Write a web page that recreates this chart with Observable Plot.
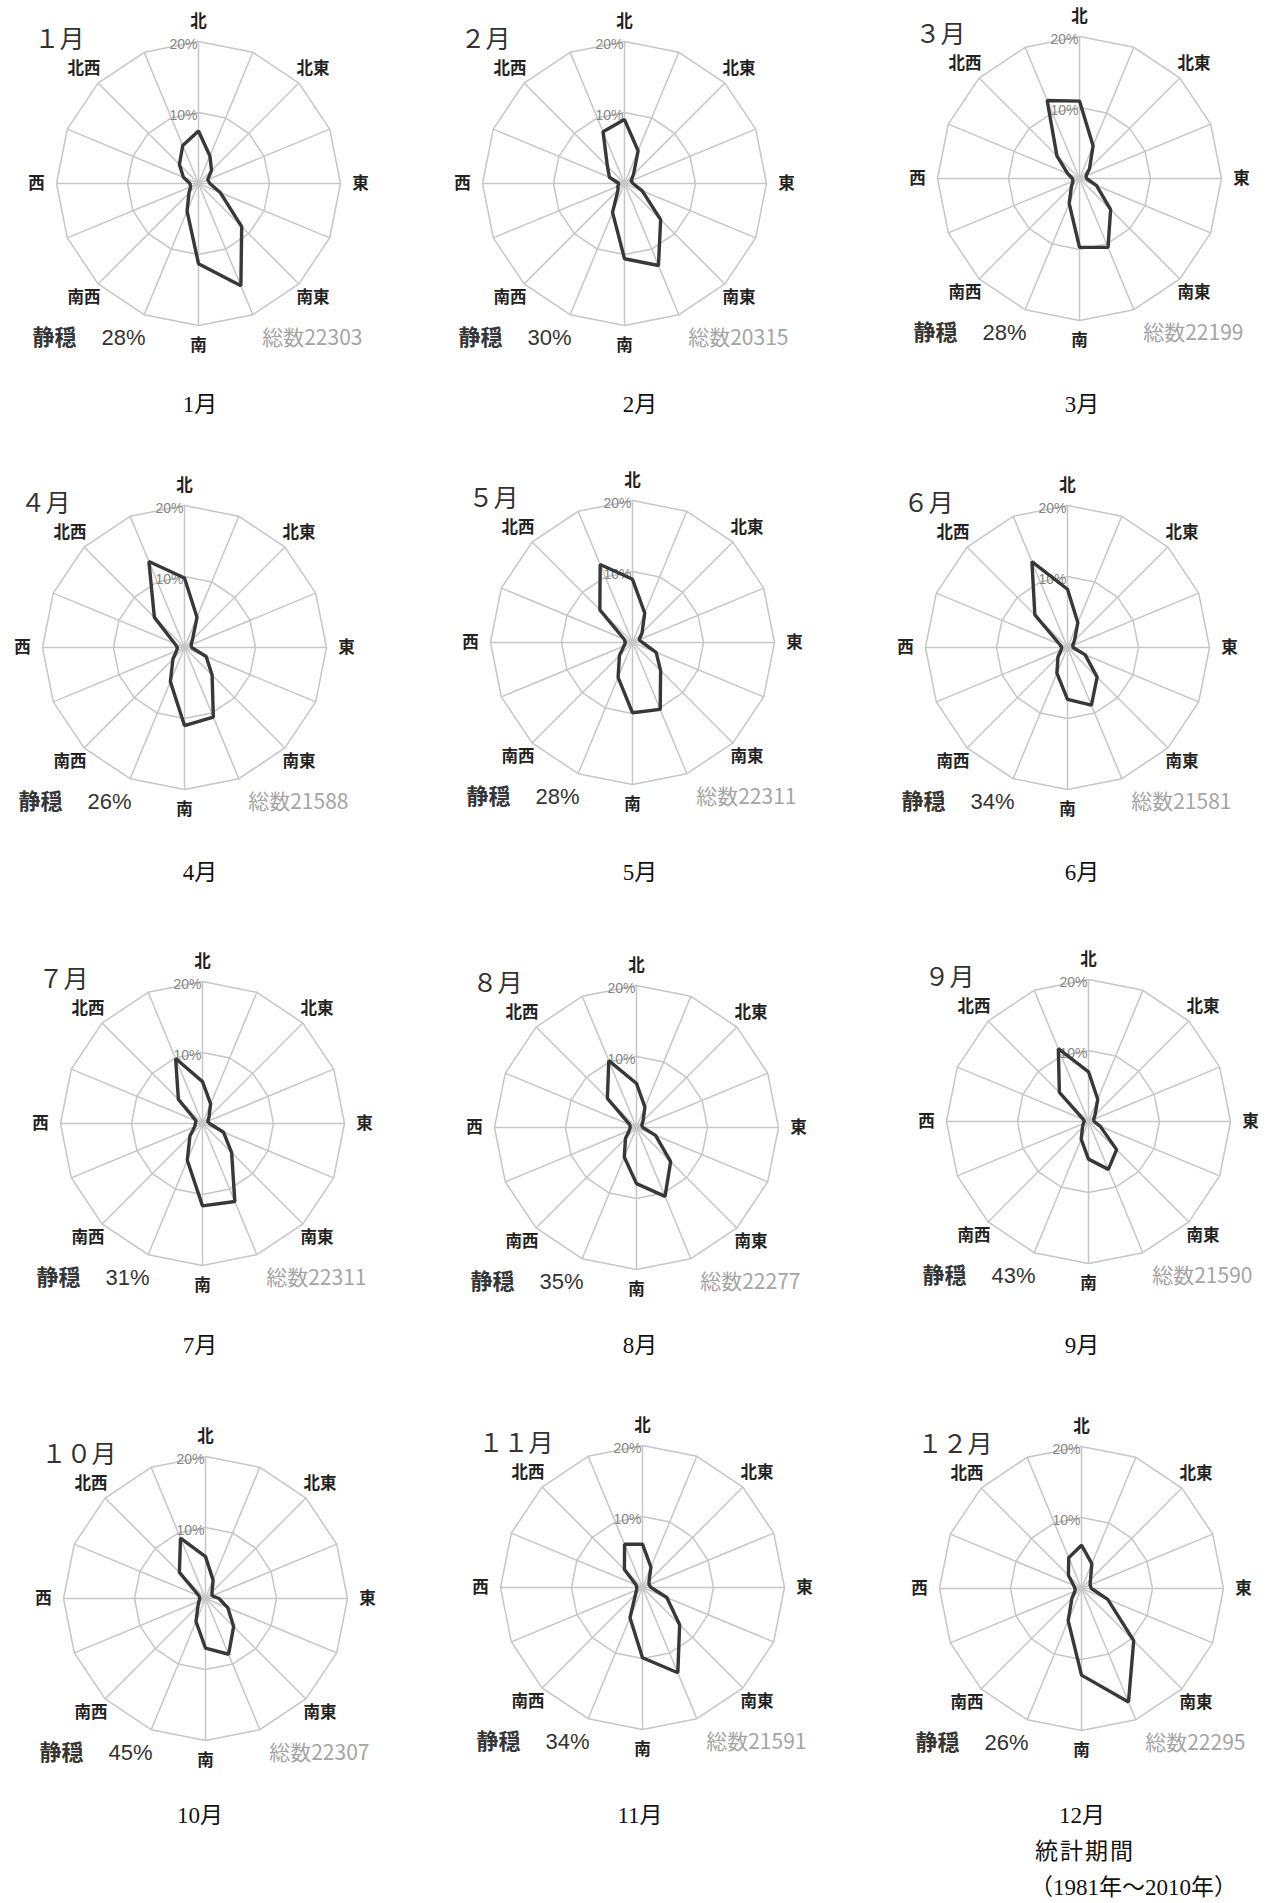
<!DOCTYPE html>
<html><head><meta charset="utf-8">
<script src="https://cdn.jsdelivr.net/npm/d3@7"></script>
<script src="https://cdn.jsdelivr.net/npm/@observablehq/plot@0.6"></script>
<style>
body{margin:0;background:#fff;}
#page{position:relative;width:1276px;height:1903px;overflow:hidden;font-family:"Noto Sans CJK JP",sans-serif;}
.panel{position:absolute;}
.cap{position:absolute;font-family:"Liberation Serif","DejaVu Serif","Noto Sans CJK JP",serif;font-size:23px;color:#111;white-space:nowrap;line-height:1;}
.c{transform:translate(-50%,-50%);}
.l{transform:translate(0,-50%);}
</style></head><body><div id="page"></div>
<script>
// ---- data ----
const directions = ["北","北北東","北東","東北東","東","東南東","南東","南南東","南","南南西","南西","西南西","西","西北西","北西","北北西"];
const labelDirs = ["北","北東","東","南東","南","南西","西","北西"];
const monthTitles = ["１月","２月","３月","４月","５月","６月","７月","８月","９月","１０月","１１月","１２月"];
const monthCaptions = ["1月","2月","3月","4月","5月","6月","7月","8月","9月","10月","11月","12月"];
const calm = [28,30,28,26,28,34,31,35,43,45,34,26];
const totals = [22303,20315,22199,21588,22311,21581,22311,22277,21590,22307,21591,22295];
const ringTicks = [10,20];
const footnote = ["統計期間","（1981年～2010年）"];

const jan = [7.4,4.2,2.6,1.4,1.6,3.3,8.6,15.6,11.3,4.2,1.9,1.2,1.2,2.3,3.8,5.8];
const feb = [9.0,5.0,1.8,1.0,1.2,2.7,7.2,12.5,10.6,4.4,1.3,1.0,0.8,2.3,3.4,7.9];
const mar = [10.9,5.0,2.0,1.0,1.0,2.6,6.2,10.5,9.7,3.8,1.6,1.0,1.0,1.8,4.5,11.9];
const apr = [9.8,4.6,1.6,1.0,1.0,3.3,5.5,10.6,11.0,5.2,2.3,1.2,1.0,1.5,6.0,13.1];
const may = [8.9,4.5,1.9,1.0,1.4,3.6,5.6,10.2,9.9,5.3,2.6,1.3,1.0,1.3,6.5,11.9];
const jun = [8.2,3.8,1.4,0.8,0.8,2.7,5.9,8.8,7.3,3.9,1.9,1.0,0.8,1.2,6.5,13.1];
const jul = [5.9,3.0,1.3,0.8,1.0,3.2,5.8,11.9,11.6,5.6,2.5,1.2,1.0,1.0,4.8,9.9];
const aug = [6.2,3.1,1.3,0.8,0.9,2.9,6.8,10.5,7.9,4.5,2.2,1.1,0.9,1.0,5.8,10.2];
const sep = [7.0,3.4,1.3,0.8,0.8,1.8,5.6,7.3,5.3,2.7,1.2,0.8,0.6,0.8,5.8,11.1];
const oct = [5.9,2.8,1.3,1.0,1.9,3.4,5.6,8.5,7.0,3.5,1.5,1.0,0.8,1.0,5.2,9.2];
const nov = [6.1,3.1,1.3,1.0,1.2,3.7,7.4,13.0,9.9,4.6,1.4,0.9,0.8,1.0,3.6,6.6];
const dec = [6.1,3.8,1.8,1.3,1.4,4.0,10.4,17.3,12.2,4.9,1.9,1.0,0.9,1.2,2.6,4.7];
const series = [jan,feb,mar,apr,may,jun,jul,aug,sep,oct,nov,dec];

// ---- layout ----
const centers = [[198,183],[624,183],[1079,178],[184,647],[632,642],[1067,647],[202,1123],[636,1127],[1088,1121],[205,1598],[642,1587],[1081,1588]];
const capX = [200,640,1082], capY = [404,872,1345,1815];
const K = 7.1;             // px per percent
const W = 370, H = 360, CX = 185, CY = 180;
const LR = 22.8;           // label radius (percent units)
const FONT = "'Noto Sans CJK JP', sans-serif";
const ang = j => j * Math.PI / 8;

const page = document.getElementById("page");

function rose(i) {
  const vals = series[i];
  const pts = vals.map((v, j) => ({dir: directions[j], v, a: ang(j)}));
  const ringPts = ringTicks.flatMap(r => directions.map((d, j) => ({r, a: ang(j)})));
  return Plot.plot({
    width: W, height: H, margin: 0,
    x: {domain: [-CX / K, (W - CX) / K], axis: null},
    y: {domain: [-(H - CY) / K, CY / K], axis: null},
    style: {background: "transparent", fontFamily: FONT, overflow: "visible"},
    marks: [
      Plot.line(ringPts, {x: d => d.r * Math.sin(d.a), y: d => d.r * Math.cos(d.a), z: "r", curve: "linear-closed", stroke: "#c6c6c6", strokeWidth: 1.5}),
      Plot.link(directions, {x1: () => 0, y1: () => 0, x2: (d, j) => 20 * Math.sin(ang(j)), y2: (d, j) => 20 * Math.cos(ang(j)), stroke: "#c6c6c6", strokeWidth: 1.5}),
      Plot.text(ringTicks, {x: () => 0, y: d => d, text: d => d + "%", textAnchor: "end", dx: -1, dy: 3, fill: "#858585", fontSize: 14, fontFamily: "'Liberation Sans Narrow','Liberation Sans',sans-serif"}),
      Plot.line(pts, {x: d => d.v * Math.sin(d.a), y: d => d.v * Math.cos(d.a), curve: "linear-closed", stroke: "#383838", strokeWidth: 3.4, strokeLinejoin: "miter"}),
      Plot.text(labelDirs, {x: (d, k) => LR * Math.sin(k * Math.PI / 4), y: (d, k) => LR * Math.cos(k * Math.PI / 4), text: d => d, fontSize: 16.5, fontWeight: 700, fill: "#222"}),
      Plot.text([monthTitles[i]], {frameAnchor: "top-left", dx: 21, dy: 27, textAnchor: "start", text: d => d, fontSize: 25, fill: "#333"}),
      Plot.text(["静穏"], {frameAnchor: "bottom-left", dx: 19, dy: -19, textAnchor: "start", text: d => d, fontSize: 22, fontWeight: 700, fill: "#363636"}),
      Plot.text([calm[i]], {frameAnchor: "bottom-left", dx: 88, dy: -19, textAnchor: "start", text: d => d + "%", fontSize: 22, fill: "#333", fontFamily: "'Liberation Sans Narrow','Liberation Sans',sans-serif"}),
      Plot.text([totals[i]], {frameAnchor: "bottom-right", dx: -21, dy: -19, textAnchor: "end", text: d => "総数" + d, fontSize: 21, fill: "#a4a4a4"})
    ]
  });
}

series.forEach((s, i) => {
  const svg = rose(i);
  const wrap = document.createElement("div");
  wrap.className = "panel";
  wrap.style.left = (centers[i][0] - CX) + "px";
  wrap.style.top = (centers[i][1] - CY) + "px";
  wrap.appendChild(svg);
  page.appendChild(wrap);
  const cap = document.createElement("div");
  cap.className = "cap c";
  cap.textContent = monthCaptions[i];
  cap.style.left = capX[i % 3] + "px";
  cap.style.top = capY[Math.floor(i / 3)] + "px";
  page.appendChild(cap);
});
footnote.forEach((t, k) => {
  const d = document.createElement("div");
  d.className = "cap l";
  d.textContent = t;
  d.style.left = (k === 0 ? 1035 : 1030) + "px";
  d.style.top = (k === 0 ? 1851 : 1887) + "px";
  if (k === 0) d.style.letterSpacing = "2px";
  page.appendChild(d);
});
</script></body></html>
